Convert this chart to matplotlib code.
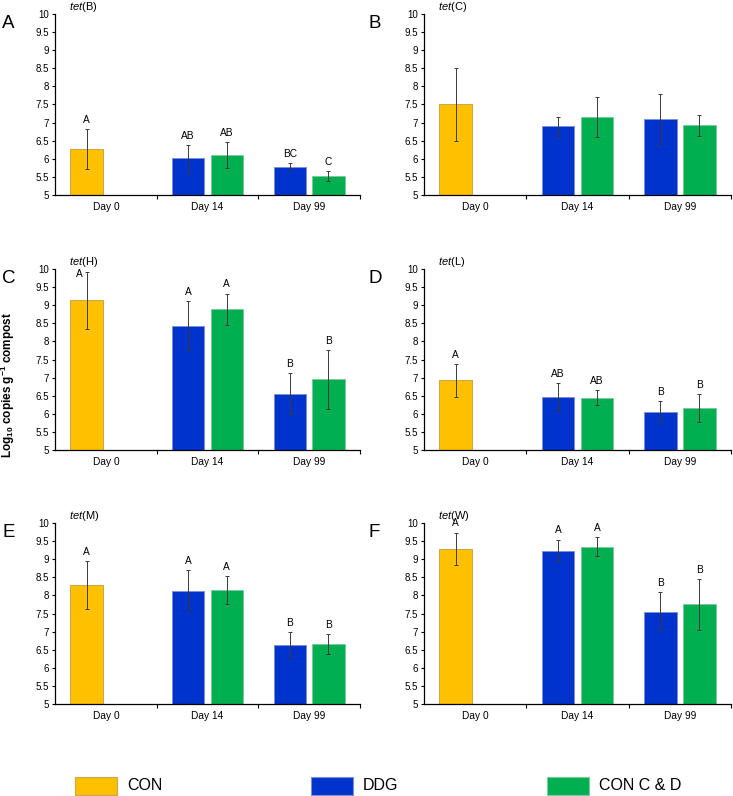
import numpy as np
import matplotlib
matplotlib.use('Agg')
import matplotlib.pyplot as plt
from matplotlib.patches import Rectangle

plt.rcParams['font.family'] = ['Liberation Sans', 'DejaVu Sans']
plt.rcParams['mathtext.fontset'] = 'custom'
plt.rcParams['mathtext.rm'] = 'Liberation Sans'
plt.rcParams['mathtext.it'] = 'Liberation Sans:italic'
plt.rcParams['mathtext.bf'] = 'Liberation Sans:bold'

days = ['Day 0', 'Day 14', 'Day 99']
genes = ['B', 'C', 'H', 'L', 'M', 'W']
panel_letters = ['A', 'B', 'C', 'D', 'E', 'F']

# CON only at day 0, DDG and CON C & D at day 14 and 99
con_mean = [6.27, 7.50, 9.13, 6.92, 8.29, 9.29]
con_err = [0.55, 1.00, 0.80, 0.45, 0.66, 0.44]
ddg_mean = [[6.01, 5.78], [6.90, 7.10], [8.43, 6.54], [6.47, 6.05], [8.13, 6.62], [9.24, 7.55]]
ddg_err = [[0.37, 0.10], [0.26, 0.69], [0.68, 0.58], [0.38, 0.29], [0.57, 0.36], [0.30, 0.54]]
ccd_mean = [[6.10, 5.52], [7.15, 6.92], [8.89, 6.95], [6.44, 6.15], [8.15, 6.66], [9.35, 7.75]]
ccd_err = [[0.36, 0.14], [0.56, 0.28], [0.43, 0.81], [0.21, 0.39], [0.38, 0.27], [0.26, 0.70]]

# significance letters (None = not shown)
con_sig = ['A', None, 'A', 'A', 'A', 'A']
ddg_sig = [['AB', 'BC'], None, ['A', 'B'], ['AB', 'B'], ['A', 'B'], ['A', 'B']]
ccd_sig = [['AB', 'C'], None, ['A', 'B'], ['AB', 'B'], ['A', 'B'], ['A', 'B']]

c_con = '#FFC000'
c_ddg = '#0033CC'
c_ccd = '#00B050'
e_con = '#C9A64A'
e_ddg = '#7D90D6'
e_ccd = '#7CC9A0'

W, H = 733, 796
fig = plt.figure(figsize=(W / 100, H / 100), dpi=100)

cols_px = [(55, 305), (424, 307)]
rows_px = [(14, 195), (269, 450), (523, 704)]
letter_x = [2, 368]

width = 0.32
off = 0.19
pad = 0.12
ekw = dict(fmt='none', ecolor='#3a3a3a', elinewidth=0.7, capsize=1.6, capthick=0.7)

for i in range(6):
    r, c = divmod(i, 2)
    x0, w = cols_px[c]
    top, bot = rows_px[r]
    ax = fig.add_axes([x0 / W, 1 - bot / H, w / W, (bot - top) / H])

    x = np.arange(len(days))
    ax.bar(x[0] - off, con_mean[i], width, color=c_con, edgecolor=e_con, linewidth=0.7, zorder=2)
    ax.errorbar(x[0] - off, con_mean[i], yerr=con_err[i], zorder=3, **ekw)
    ax.bar(x[1:] - off, ddg_mean[i], width, color=c_ddg, edgecolor=e_ddg, linewidth=0.7, zorder=2)
    ax.errorbar(x[1:] - off, ddg_mean[i], yerr=ddg_err[i], zorder=3, **ekw)
    ax.bar(x[1:] + off, ccd_mean[i], width, color=c_ccd, edgecolor=e_ccd, linewidth=0.7, zorder=2)
    ax.errorbar(x[1:] + off, ccd_mean[i], yerr=ccd_err[i], zorder=3, **ekw)

    # significance letters
    labs = []
    if con_sig[i]:
        labs.append((x[0] - off, con_mean[i] + con_err[i], con_sig[i]))
    if ddg_sig[i]:
        for k in range(2):
            labs.append((x[k + 1] - off, ddg_mean[i][k] + ddg_err[i][k], ddg_sig[i][k]))
            labs.append((x[k + 1] + off, ccd_mean[i][k] + ccd_err[i][k], ccd_sig[i][k]))
    for lx, ly, s in labs:
        ly = ly + pad
        if ly > 9.95:
            ly = 9.72
            lx = lx - 0.07
        ax.text(lx, ly, s, ha='center', va='bottom', fontsize=7.3)

    ax.set_xlim(-0.5, 2.5)
    ax.set_ylim(5, 10)
    ax.set_yticks(np.arange(5, 10.01, 0.5))
    ax.set_yticklabels(['%g' % v for v in np.arange(5, 10.01, 0.5)], fontsize=7)
    ax.set_xticks(x)
    ax.set_xticklabels(days, fontsize=7.3)
    ax.set_xticks([0.5, 1.5, 2.5], minor=True)
    ax.tick_params(axis='x', which='major', length=0, pad=5)
    ax.tick_params(axis='x', which='minor', length=3, width=0.8, direction='out')
    ax.tick_params(axis='y', length=2.5, width=0.8, pad=2)
    for s in ['top', 'right']:
        ax.spines[s].set_visible(False)
    for s in ['left', 'bottom']:
        ax.spines[s].set_linewidth(0.9)

    fig.text((x0 + 14) / W, 1 - (top - 4) / H, r'$\mathit{tet}$(' + genes[i] + ')',
             ha='left', va='baseline', fontsize=8)
    fig.text(letter_x[c] / W, 1 - (top + 1) / H, panel_letters[i], ha='left', va='top', fontsize=13.5)

fig.text(8 / W, 1 - 385 / H, r'Log$_{\mathbf{10}}$ copies g$^{\mathbf{-1}}$ compost',
         rotation=90, ha='center', va='center', fontsize=8.5, fontweight='bold')

# legend
leg_names = ['CON', 'DDG', 'CON C & D']
leg_cols = [c_con, c_ddg, c_ccd]
leg_edges = [e_con, e_ddg, e_ccd]
leg_x = [75, 311, 547]
for name, fc, ec, lx in zip(leg_names, leg_cols, leg_edges, leg_x):
    fig.add_artist(Rectangle((lx / W, 1 - 795 / H), 42 / W, 18 / H, transform=fig.transFigure,
                             facecolor=fc, edgecolor=ec, linewidth=0.8))
    fig.text((lx + 52) / W, 1 - 786 / H, name, ha='left', va='center', fontsize=11.5)

fig.savefig('out.png', dpi=100)
